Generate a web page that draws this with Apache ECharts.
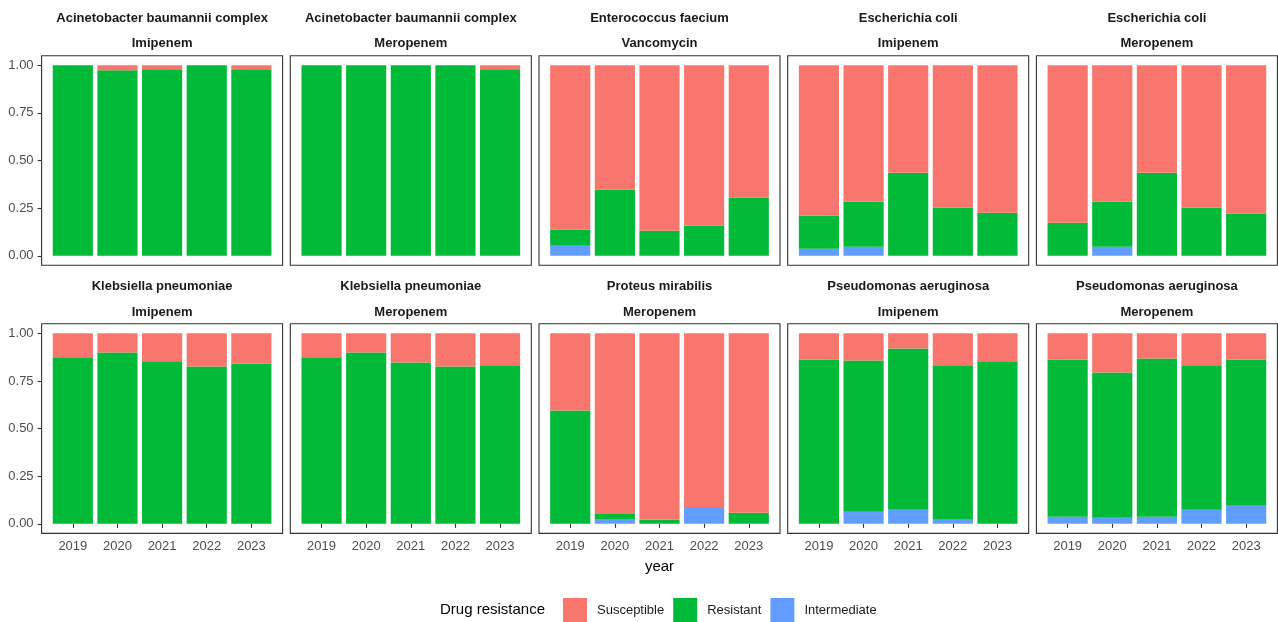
<!DOCTYPE html>
<html>
<head>
<meta charset="utf-8">
<title>Drug resistance by year</title>
<script src="https://cdn.jsdelivr.net/npm/echarts@6/dist/echarts.min.js"></script>
<style>
  html, body { margin: 0; padding: 0; background: #ffffff; }
  #chart { width: 1278px; height: 622px; }
</style>
</head>
<body>
<div id="chart"></div>
<script>
// Years on the x axis of every panel
const years = ['2019', '2020', '2021', '2022', '2023'];

// Facet strips: organism on the first line, antibiotic on the second
const organisms = [
  'Acinetobacter baumannii complex', 'Acinetobacter baumannii complex',
  'Enterococcus faecium', 'Escherichia coli', 'Escherichia coli',
  'Klebsiella pneumoniae', 'Klebsiella pneumoniae',
  'Proteus mirabilis', 'Pseudomonas aeruginosa', 'Pseudomonas aeruginosa'
];
const antibiotics = [
  'Imipenem', 'Meropenem', 'Vancomycin', 'Imipenem', 'Meropenem',
  'Imipenem', 'Meropenem', 'Meropenem', 'Imipenem', 'Meropenem'
];

// Proportions per panel (rows) and year (columns)
const intermediate = [
  [0, 0, 0, 0, 0],
  [0, 0, 0, 0, 0],
  [0.053, 0, 0, 0, 0],
  [0.037, 0.047, 0, 0, 0],
  [0, 0.047, 0, 0, 0],
  [0, 0, 0, 0, 0],
  [0, 0, 0, 0, 0],
  [0, 0.026, 0, 0.089, 0],
  [0, 0.063, 0.074, 0.026, 0],
  [0.037, 0.032, 0.037, 0.074, 0.095]
];
const resistant = [
  [1, 0.974, 0.979, 1, 0.979],
  [1, 1, 1, 1, 0.979],
  [0.084, 0.347, 0.131, 0.158, 0.305],
  [0.173, 0.237, 0.436, 0.252, 0.226],
  [0.173, 0.237, 0.436, 0.252, 0.221],
  [0.874, 0.900, 0.853, 0.826, 0.842],
  [0.874, 0.900, 0.847, 0.826, 0.832],
  [0.595, 0.026, 0.021, 0, 0.058],
  [0.863, 0.795, 0.847, 0.806, 0.853],
  [0.826, 0.763, 0.831, 0.758, 0.768]
];
const susceptible = [
  [0, 0.026, 0.021, 0, 0.021],
  [0, 0, 0, 0, 0.021],
  [0.863, 0.653, 0.869, 0.842, 0.695],
  [0.790, 0.716, 0.564, 0.748, 0.774],
  [0.827, 0.716, 0.564, 0.748, 0.779],
  [0.126, 0.100, 0.147, 0.174, 0.158],
  [0.126, 0.100, 0.153, 0.174, 0.168],
  [0.405, 0.948, 0.979, 0.911, 0.942],
  [0.137, 0.142, 0.079, 0.168, 0.147],
  [0.137, 0.205, 0.132, 0.168, 0.137]
];

const yTicks = [0, 0.25, 0.5, 0.75, 1];
const categories = ['Susceptible', 'Resistant', 'Intermediate'];

const FONT = '"Liberation Sans", Arial, Helvetica, sans-serif';
const COLORS = { Susceptible: '#F8766D', Resistant: '#00BA38', Intermediate: '#619CFF' };

// Panel geometry (5 columns x 2 rows); each panel holds 5.4 year-bands,
// the bars occupy the central 5 bands
const PANEL_LEFT = 41.6, PANEL_STEP = 248.7, PANEL_W = 241;
const ROW_TOP = [55.7, 323.8], PANEL_H = 209.6;
const BAND = PANEL_W / 5.4;
const PAD = (PANEL_W - 5 * BAND) / 2;

const grids = [], xAxes = [], yAxes = [], series = [], graphics = [];

for (let i = 0; i < 10; i++) {
  const col = i % 5, row = Math.floor(i / 5);
  const left = PANEL_LEFT + col * PANEL_STEP;
  const top = ROW_TOP[row];
  const isBottom = row === 1, isLeft = col === 0;

  grids.push({ left: left + PAD, top: top, width: 5 * BAND, height: PANEL_H });

  xAxes.push({
    type: 'category', gridIndex: i, data: years,
    splitLine: { show: false },
    axisLine: { show: false },
    axisTick: { show: isBottom, length: 4, alignWithLabel: true,
                lineStyle: { color: '#333333', width: 1.1 } },
    axisLabel: { show: isBottom, margin: 7, interval: 0,
                 color: '#4d4d4d', fontSize: 13, fontFamily: FONT },
    name: i === 7 ? 'year' : '',
    nameLocation: 'middle', nameGap: 26,
    nameTextStyle: { color: '#000000', fontSize: 15, fontFamily: FONT }
  });

  // Offset moves the y axis out to the panel border
  yAxes.push({
    type: 'value', gridIndex: i, min: -0.05, max: 1.05, offset: PAD,
    splitLine: { show: false },
    axisLine: { show: false },
    axisTick: { show: isLeft, length: 4, customValues: yTicks,
                lineStyle: { color: '#333333', width: 1.1 } },
    axisLabel: { show: isLeft, customValues: yTicks, margin: 8,
                 color: '#4d4d4d', fontSize: 13, fontFamily: FONT,
                 formatter: v => v.toFixed(2) }
  });

  // Stacked from the bottom: Intermediate, Resistant, Susceptible
  const layers = [
    ['Intermediate', intermediate[i]],
    ['Resistant', resistant[i]],
    ['Susceptible', susceptible[i]]
  ];
  layers.forEach(([name, vals]) => {
    series.push({
      type: 'bar', name: name, stack: 'panel' + i,
      xAxisIndex: i, yAxisIndex: i,
      barWidth: '90%', silent: true,
      itemStyle: { color: COLORS[name] },
      data: vals
    });
  });

  // Panel border
  graphics.push({
    type: 'rect', z: 100, silent: true,
    shape: { x: left, y: top, width: PANEL_W, height: PANEL_H },
    style: { fill: 'none', stroke: '#333333', lineWidth: 1.1 }
  });

  // Strip labels above each panel
  const cx = left + PANEL_W / 2;
  graphics.push({
    type: 'text', x: cx, y: row === 0 ? 18.3 : 286.6,
    style: { text: organisms[i], textAlign: 'center', textVerticalAlign: 'middle',
             font: 'bold 13px ' + FONT, fill: '#1a1a1a' }
  });
  graphics.push({
    type: 'text', x: cx, y: row === 0 ? 43.8 : 312.3,
    style: { text: antibiotics[i], textAlign: 'center', textVerticalAlign: 'middle',
             font: 'bold 13px ' + FONT, fill: '#1a1a1a' }
  });
}

// Legend title
graphics.push({
  type: 'text', x: 440, y: 610,
  style: { text: 'Drug resistance', textAlign: 'left', textVerticalAlign: 'middle',
           font: '15px ' + FONT, fill: '#000000' }
});

const chart = echarts.init(document.getElementById('chart'), null, { renderer: 'canvas' });
chart.setOption({
  animation: false,
  backgroundColor: '#ffffff',
  grid: grids,
  xAxis: xAxes,
  yAxis: yAxes,
  series: series,
  graphic: graphics,
  legend: {
    data: categories,
    orient: 'horizontal',
    left: 563, top: 598, padding: 0,
    icon: 'rect', itemWidth: 24, itemHeight: 24, itemGap: 9,
    selectedMode: false,
    textStyle: { color: '#1a1a1a', fontSize: 13, fontFamily: FONT,
                 padding: [0, 0, 0, 5] }
  }
});
</script>
</body>
</html>
